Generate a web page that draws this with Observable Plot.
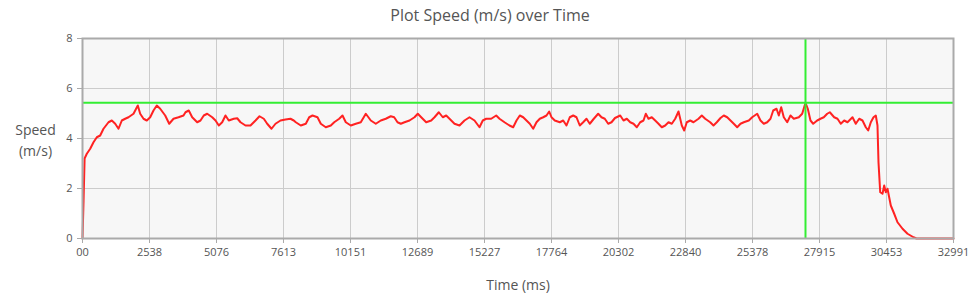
<!DOCTYPE html>
<html>
<head>
<meta charset="utf-8">
<script src="https://cdn.jsdelivr.net/npm/d3@7"></script>
<script src="https://cdn.jsdelivr.net/npm/@observablehq/plot@0.6"></script>
<style>
  html, body { margin: 0; padding: 0; background: #fff; }
  #title { width: 980px; height: 30px; line-height: 30px; text-align: center; font-family: "Open Sans", sans-serif; font-size: 16px; color: #555; }
</style>
</head>
<body>
<div id="title">Plot Speed (m/s) over Time</div>
<div id="chart"></div>
<script>
const timeMs = [
  0, 40, 80, 163, 292, 417, 542, 670, 795, 985, 1110, 1239, 1364, 1489, 1617, 1742, 1932, 2095, 2185, 2311,
  2435, 2564, 2689, 2814, 2943, 3132, 3284, 3447, 3636, 3826, 3901, 4026, 4155, 4344, 4469, 4594, 4723, 4913, 5038, 5163,
  5291, 5416, 5541, 5731, 5860, 5985, 6174, 6363, 6553, 6704, 6867, 6996, 7159, 7310, 7500, 7689, 7878, 8003, 8079, 8268,
  8458, 8587, 8712, 8901, 9026, 9215, 9405, 9534, 9723, 9848, 9973, 10163, 10352, 10541, 10731, 10920, 11109, 11299, 11488, 11677,
  11806, 11931, 12056, 12196, 12386, 12575, 12700, 12829, 13018, 13208, 13333, 13496, 13647, 13776, 13901, 14090, 14280, 14469, 14658, 14848,
  15037, 15162, 15291, 15480, 15670, 15795, 15984, 16173, 16313, 16439, 16564, 16692, 16817, 16942, 17071, 17196, 17321, 17450, 17575, 17677,
  17764, 17889, 18079, 18207, 18332, 18457, 18586, 18711, 18836, 18965, 19090, 19215, 19367, 19533, 19658, 19783, 19912, 20037, 20170, 20367,
  20492, 20617, 20746, 20871, 20996, 21124, 21249, 21336, 21438, 21563, 21692, 21817, 21942, 22071, 22196, 22321, 22450, 22575, 22700, 22791,
  22889, 23018, 23143, 23332, 23457, 23586, 23775, 23900, 24025, 24166, 24290, 24419, 24544, 24669, 24798, 24923, 25048, 25237, 25366, 25555,
  25680, 25805, 25934, 26059, 26162, 26287, 26374, 26465, 26563, 26692, 26817, 26942, 27132, 27260, 27385, 27472, 27574, 27676, 27828, 27953,
  28078, 28207, 28306, 28472, 28597, 28722, 28851, 28976, 29165, 29290, 29419, 29544, 29669, 29760, 29859, 29961, 30048, 30112, 30150, 30215,
  30302, 30366, 30427, 30491, 30616, 30745, 30870, 31060, 31249, 31476, 31590, 32991
];
const speed = [
  0, 1.5, 3.2, 3.39, 3.59, 3.85, 4.05, 4.12, 4.39, 4.65, 4.72, 4.59, 4.39, 4.72, 4.79, 4.85, 4.99, 5.32, 4.99, 4.79,
  4.72, 4.85, 5.12, 5.32, 5.19, 4.92, 4.59, 4.79, 4.85, 4.92, 5.05, 5.12, 4.85, 4.65, 4.72, 4.92, 4.99, 4.85, 4.72, 4.52,
  4.65, 4.92, 4.72, 4.79, 4.81, 4.65, 4.52, 4.52, 4.72, 4.89, 4.79, 4.59, 4.39, 4.59, 4.72, 4.76, 4.79, 4.72, 4.65, 4.52,
  4.59, 4.85, 4.92, 4.85, 4.59, 4.45, 4.52, 4.65, 4.79, 4.92, 4.65, 4.52, 4.59, 4.65, 4.99, 4.72, 4.59, 4.72, 4.79, 4.89,
  4.85, 4.65, 4.59, 4.65, 4.72, 4.85, 4.99, 4.85, 4.65, 4.72, 4.85, 5.05, 4.85, 4.92, 4.79, 4.59, 4.52, 4.72, 4.85, 4.72,
  4.45, 4.72, 4.79, 4.79, 4.92, 4.79, 4.65, 4.52, 4.45, 4.72, 4.92, 4.85, 4.72, 4.59, 4.39, 4.65, 4.79, 4.85, 4.92, 5.08,
  4.85, 4.72, 4.65, 4.72, 4.52, 4.85, 4.92, 4.85, 4.52, 4.65, 4.79, 4.59, 4.79, 4.99, 4.85, 4.79, 4.59, 4.65, 4.82, 4.92,
  4.72, 4.79, 4.65, 4.59, 4.45, 4.65, 4.72, 4.99, 4.79, 4.85, 4.72, 4.59, 4.45, 4.52, 4.65, 4.59, 4.79, 5.08, 4.52, 4.32,
  4.65, 4.72, 4.65, 4.79, 4.92, 4.79, 4.65, 4.52, 4.65, 4.82, 4.92, 4.85, 4.72, 4.59, 4.45, 4.59, 4.65, 4.72, 4.85, 4.99,
  4.72, 4.59, 4.65, 4.79, 5.12, 5.19, 4.92, 5.25, 4.85, 4.65, 4.92, 4.79, 4.85, 4.99, 5.43, 5.19, 4.72, 4.59, 4.72, 4.79,
  4.85, 4.99, 5.05, 4.85, 4.79, 4.59, 4.72, 4.65, 4.85, 4.59, 4.79, 4.72, 4.45, 4.32, 4.65, 4.85, 4.92, 4.52, 3.05, 1.85,
  1.79, 2.12, 1.85, 1.99, 1.32, 0.99, 0.65, 0.39, 0.19, 0.05, 0, 0
];
const xTickValues = [0, 2538, 5076, 7613, 10151, 12689, 15227, 17764, 20302, 22840, 25378, 27915, 30453, 32991];
const xTickLabels = ["00", "2538", "5076", "7613", "10151", "12689", "15227", "17764", "20302", "22840", "25378", "27915", "30453", "32991"];
const yTickValues = [0, 2, 4, 6, 8];
const markerTime = [27385];
const markerSpeed = [5.43];

const data = timeMs.map((t, i) => ({t, v: speed[i]}));

const chart = Plot.plot({
  width: 980,
  height: 268,
  marginLeft: 82,
  marginRight: 27,
  marginTop: 8,
  marginBottom: 60,
  style: {fontFamily: "'Open Sans', sans-serif", fontSize: "11px", color: "#555", background: "transparent"},
  x: {domain: [0, 32991]},
  y: {domain: [0, 8]},
  marks: [
    Plot.frame({fill: "#f7f7f7", stroke: null}),
    Plot.gridX(xTickValues, {stroke: "#ccc", strokeOpacity: 1}),
    Plot.gridY(yTickValues, {stroke: "#ccc", strokeOpacity: 1}),
    Plot.line(data, {x: "t", y: "v", stroke: "#ff2222", strokeWidth: 2}),
    Plot.ruleY(markerSpeed, {stroke: "#33ee33", strokeWidth: 2}),
    Plot.ruleX(markerTime, {stroke: "#33ee33", strokeWidth: 2}),
    Plot.frame({stroke: "#aaa", strokeWidth: 2}),
    Plot.axisX(xTickValues, {
      tickSize: 5, tickPadding: 5, stroke: "#aaa",
      tickFormat: (d) => xTickLabels[xTickValues.indexOf(d)],
      label: null, fontSize: 11
    }),
    Plot.axisY(yTickValues, {tickSize: 5, tickPadding: 5, stroke: "#aaa", label: null, fontSize: 11}),
    Plot.text(["Time (ms)"], {frameAnchor: "bottom", lineAnchor: "middle", dy: 47, textAnchor: "middle", fontSize: 14, fill: "#555"}),
    Plot.text(["Speed\n(m/s)"], {frameAnchor: "left", dx: -47, textAnchor: "middle", lineHeight: 1.55, fontSize: 14, fill: "#555"})
  ]
});
document.getElementById("chart").appendChild(chart);
</script>
</body>
</html>
